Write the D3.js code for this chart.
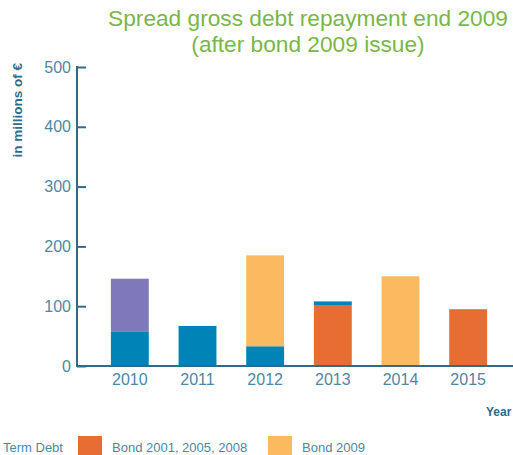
<!DOCTYPE html>
<html>
<head>
<meta charset="utf-8">
<script src="https://cdn.jsdelivr.net/npm/d3@7"></script>
<style>
  body { margin: 0; background: #fff; }
  svg { display: block; font-family: "Liberation Sans", Arial, sans-serif; }
</style>
</head>
<body>
<svg id="chart"></svg>
<script>
// data
var years = ["2010", "2011", "2012", "2013", "2014", "2015"];
var termDebt = [57, 67, 33, 6, 0, 0];
var bondOld = [0, 0, 0, 102, 0, 95];
var bond2009 = [0, 0, 152, 0, 150, 0];
var otherDebt = [89, 0, 0, 0, 0, 0];
var yTicks = [0, 100, 200, 300, 400, 500];

var width = 513, height = 455;
var axisColor = "#2f6c88", labelColor = "#4d87a6";

var svg = d3.select("#chart")
    .attr("width", width)
    .attr("height", height);

// stacking order bottom -> top
var layers = [
    { key: "bondOld", values: bondOld, color: "#e86d33" },
    { key: "termDebt", values: termDebt, color: "#0084b8" },
    { key: "bond2009", values: bond2009, color: "#fcba60" },
    { key: "other", values: otherDebt, color: "#7f79b9" }
];

var x = d3.scaleBand()
    .domain(years)
    .range([96, 502])
    .paddingInner(0.44)
    .paddingOuter(0.22);

var y = d3.scaleLinear()
    .domain([0, 500])
    .range([366, 67]);

// bars
years.forEach(function (yr, i) {
    var base = 0;
    layers.forEach(function (l) {
        var v = l.values[i];
        if (v > 0) {
            svg.append("rect")
                .attr("x", x(yr))
                .attr("width", x.bandwidth())
                .attr("y", y(base + v))
                .attr("height", y(base) - y(base + v))
                .attr("fill", l.color);
        }
        base += v;
    });
});

// y axis
var yAxis = svg.append("g")
    .attr("transform", "translate(77,0)")
    .call(d3.axisRight(y).tickValues(yTicks).tickSize(9).tickFormat(d3.format("d")));
yAxis.select(".domain").remove();
yAxis.selectAll(".tick line").attr("stroke", axisColor).attr("stroke-width", 2);
yAxis.selectAll(".tick text")
    .attr("x", -6)
    .attr("text-anchor", "end")
    .attr("fill", labelColor)
    .style("font-size", "16px")
    .style("font-family", "'Liberation Sans', Arial, sans-serif");
svg.append("line")
    .attr("x1", 77).attr("x2", 77)
    .attr("y1", y(500) - 1).attr("y2", y(0) + 1)
    .attr("stroke", axisColor).attr("stroke-width", 2);

// x axis
var xAxis = svg.append("g")
    .attr("transform", "translate(0," + y(0) + ")")
    .call(d3.axisBottom(x).tickSize(0).tickPadding(8));
xAxis.select(".domain").remove();
xAxis.selectAll(".tick text")
    .attr("fill", labelColor)
    .style("font-size", "16px")
    .style("font-family", "'Liberation Sans', Arial, sans-serif");
svg.append("line")
    .attr("x1", 76).attr("x2", 513)
    .attr("y1", y(0)).attr("y2", y(0))
    .attr("stroke", axisColor).attr("stroke-width", 2);

// axis titles
svg.append("text")
    .attr("transform", "translate(22,63) rotate(-90)")
    .attr("text-anchor", "end")
    .attr("fill", axisColor)
    .style("font-size", "13.5px")
    .style("font-weight", "bold")
    .text("in millions of €");

svg.append("text")
    .attr("x", 486).attr("y", 416)
    .attr("fill", axisColor)
    .style("font-size", "12px")
    .style("font-weight", "bold")
    .text("Year");

// title
var title = svg.append("text")
    .attr("text-anchor", "middle")
    .attr("fill", "#7ab648")
    .style("font-size", "22.7px");
title.append("tspan").attr("x", 308).attr("y", 26).text("Spread gross debt repayment end 2009");
title.append("tspan").attr("x", 308).attr("y", 52).text("(after bond 2009 issue)");

// legend
var legend = [
    { label: "Term Debt", color: null, x: 3 },
    { label: "Bond 2001, 2005, 2008", color: "#e86d33", x: 78 },
    { label: "Bond 2009", color: "#fcba60", x: 268 }
];
legend.forEach(function (d) {
    var tx = d.x;
    if (d.color) {
        svg.append("rect")
            .attr("x", d.x).attr("y", 436)
            .attr("width", 24).attr("height", 20)
            .attr("fill", d.color);
        tx = d.x + 34;
    }
    svg.append("text")
        .attr("x", tx).attr("y", 452)
        .attr("fill", labelColor)
        .style("font-size", "13px")
        .text(d.label);
});
</script>
</body>
</html>
